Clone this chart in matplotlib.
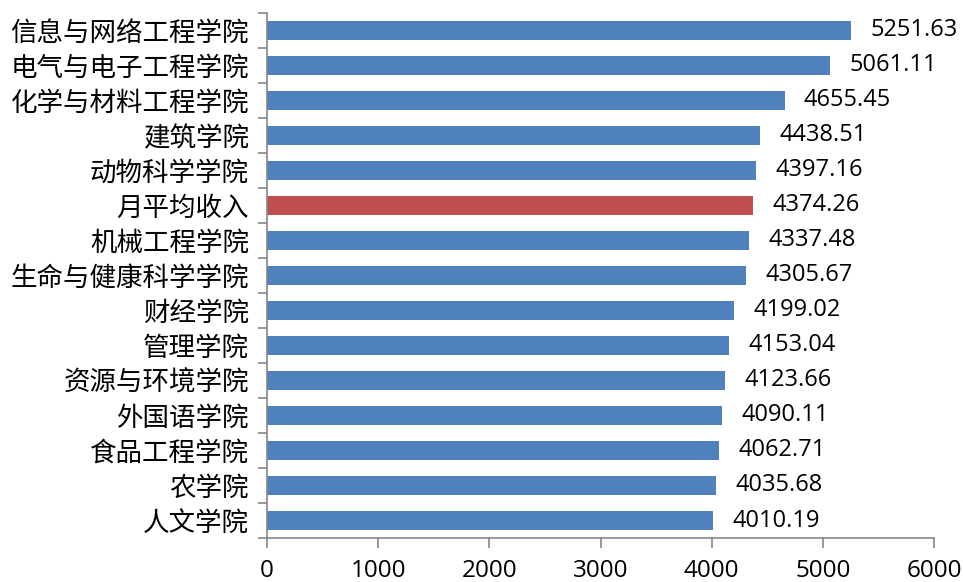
import numpy as np
import matplotlib
matplotlib.use('Agg')
import matplotlib.pyplot as plt
from matplotlib.ticker import FixedLocator

plt.rcParams['font.family'] = ['Noto Sans CJK SC', 'DejaVu Sans']

# categories listed top to bottom
colleges = ['信息与网络工程学院', '电气与电子工程学院', '化学与材料工程学院', '建筑学院',
            '动物科学学院', '月平均收入', '机械工程学院', '生命与健康科学学院', '财经学院',
            '管理学院', '资源与环境学院', '外国语学院', '食品工程学院', '农学院', '人文学院']
income = [5251.63, 5061.11, 4655.45, 4438.51, 4397.16, 4374.26, 4337.48, 4305.67,
          4199.02, 4153.04, 4123.66, 4090.11, 4062.71, 4035.68, 4010.19]
highlight = '月平均收入'
x_ticks = [0, 1000, 2000, 3000, 4000, 5000, 6000]

blue = '#4F81BD'
red = '#C0504D'
axis_gray = '#868686'

fig = plt.figure(figsize=(9.63, 5.82), dpi=100)
ax = fig.add_axes([0.2773, 0.0756, 0.6926, 0.9021])

pos = np.arange(len(colleges))
colors = [red if c == highlight else blue for c in colleges]
bars = ax.barh(pos, income, height=0.55, color=colors, zorder=2)
ax.bar_label(bars, labels=[f'{v:.2f}' for v in income], padding=14,
             fontsize=17, family='Open Sans', color='black')

ax.set_ylim(len(colleges) - 0.5, -0.5)
ax.set_xlim(0, 6000)

ax.set_yticks(pos)
ax.set_yticklabels(colleges, fontsize=19.1)
ax.yaxis.set_minor_locator(FixedLocator(np.arange(-0.5, len(colleges), 1)))
ax.tick_params(axis='y', which='major', length=0, pad=13)
ax.tick_params(axis='y', which='minor', length=6.5, width=1.2, color=axis_gray)

ax.set_xticks(x_ticks)
ax.set_xticklabels([str(t) for t in x_ticks], family='Open Sans', fontsize=17.5)
ax.tick_params(axis='x', which='major', length=7, width=1.2, color=axis_gray, pad=8)

for side in ['top', 'right']:
    ax.spines[side].set_visible(False)
for side in ['left', 'bottom']:
    ax.spines[side].set_color(axis_gray)
    ax.spines[side].set_linewidth(1.2)

fig.savefig('out.png', dpi=100)
